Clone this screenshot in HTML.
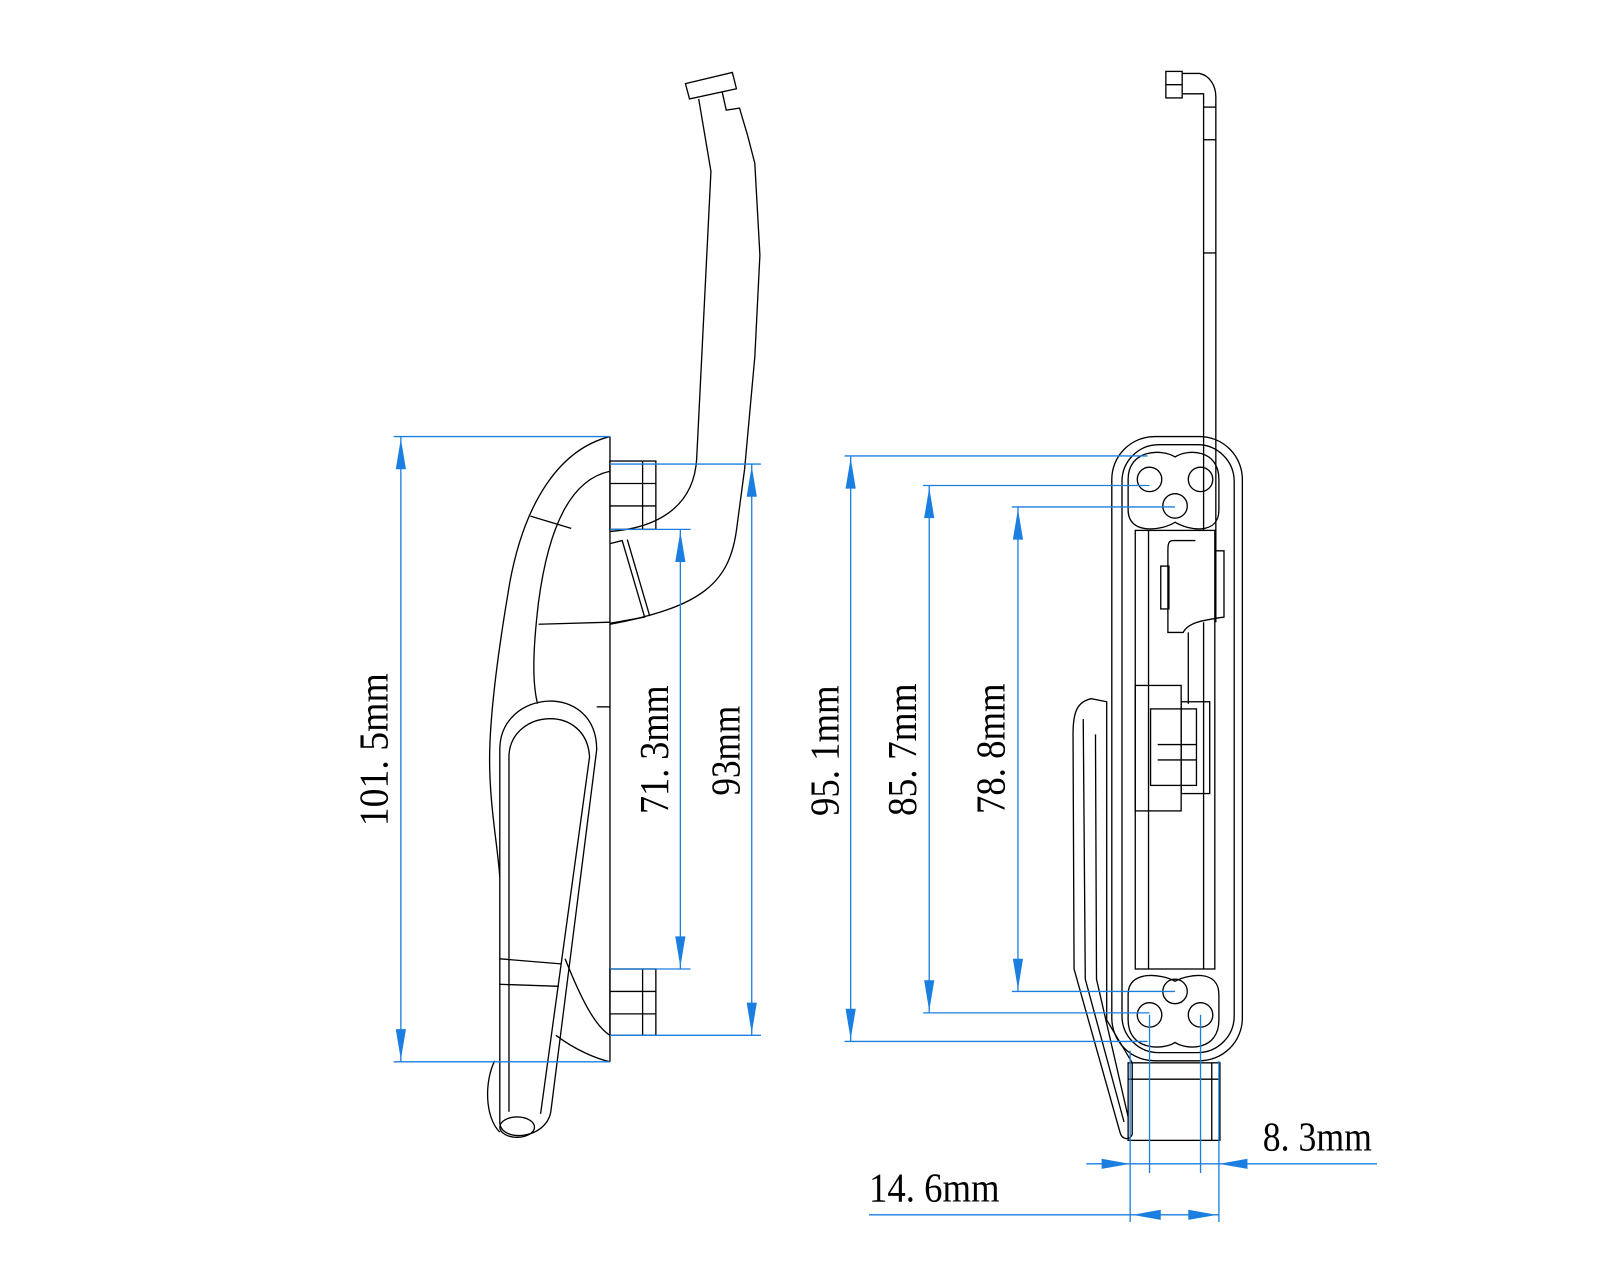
<!DOCTYPE html>
<html><head><meta charset="utf-8"><style>
html,body{margin:0;padding:0;background:#fff}
svg{display:block}
.k{fill:none;stroke:#000;stroke-width:1.3}
.b{fill:none;stroke:#1a7fe0;stroke-width:1.3}
.a{fill:#1a7fe0;stroke:none}
text{font-family:"Liberation Serif","Noto Serif CJK SC",serif;font-size:40px;fill:#000}
</style></head><body>
<svg width="1600" height="1280" viewBox="0 0 1600 1280" xmlns="http://www.w3.org/2000/svg">
<g transform="scale(1.02)">
<!-- LEFT VIEW -->
<line class="k" x1="598" y1="428" x2="598" y2="1041"/>
<path class="k" d="M598,428 C550,440 515,490 500,570 C488,640 480,700 480,745 C480,790 488,830 490,860"/>
<path class="k" d="M598,462 C560,470 538,515 528,590 C522,640 522,670 527,690"/>
<line class="k" x1="520" y1="506" x2="560" y2="518"/>
<line class="k" x1="598" y1="610" x2="528" y2="612"/>
<line class="k" x1="598" y1="693" x2="585" y2="693"/>
<path class="k" d="M490,1100 L490,735 C490,675 585,668 585,735 L540,1090 C535,1118 490,1120 490,1100 Z"/>
<path class="k" d="M499,1090 L499,740 C502,695 575,690 578,742 L530,1092"/>
<line class="k" x1="490" y1="940" x2="550" y2="945"/>
<line class="k" x1="490" y1="965" x2="548" y2="967"/>
<path class="k" d="M554,940 C568,975 582,1005 598,1015"/>
<path class="k" d="M545,1015 C565,1030 585,1038 598,1041"/>
<path class="k" d="M485,1040 C475,1060 475,1095 490,1110"/>
<ellipse class="k" cx="507" cy="1105" rx="17" ry="10"/>
<!-- mount blocks -->
<rect class="k" x="598" y="452" width="45" height="67"/>
<line class="k" x1="598" y1="474" x2="643" y2="474"/>
<line class="k" x1="598" y1="496" x2="643" y2="496"/>
<line class="k" x1="630" y1="452" x2="630" y2="519"/>
<rect class="k" x="598" y="950" width="45" height="65"/>
<line class="k" x1="598" y1="972" x2="643" y2="972"/>
<line class="k" x1="598" y1="994" x2="643" y2="994"/>
<line class="k" x1="630" y1="950" x2="630" y2="1015"/>
<path class="k" d="M598,533 L610,530 L632,605 L598,611"/>
<line class="k" x1="615" y1="529" x2="637" y2="604"/>
<!-- arm -->
<path class="k" d="M598,521 C640,518 680,500 683,450 L697,168 L685,97"/>
<path class="k" d="M672,82 L718,71 L722,87 L676,97 Z"/>
<path class="k" d="M708,90 L712,108 L725,106 L733,133 L740,160 L745,250 L740,350 L730,460 L722,520 C715,570 690,595 598,612"/>
<!-- RIGHT VIEW -->
<rect class="k" x="1090" y="428" width="128" height="612" rx="42"/>
<rect class="k" x="1100" y="436" width="110" height="596" rx="36"/>
<path class="k" d="M1106,470 C1106,440 1140,440 1152,448 C1164,440 1195,440 1195,470 L1195,500 C1195,525 1165,520 1152,512 C1140,520 1106,525 1106,500 Z"/>
<path class="k" d="M1106,1000 C1106,1030 1140,1030 1152,1022 C1164,1030 1195,1030 1195,1000 L1195,975 C1195,950 1165,955 1152,962 C1140,955 1106,950 1106,975 Z"/>
<circle class="k" cx="1127" cy="470" r="12"/><circle class="k" cx="1177" cy="470" r="12"/><circle class="k" cx="1152" cy="496" r="12"/>
<circle class="k" cx="1152" cy="972" r="12"/><circle class="k" cx="1127" cy="995" r="12"/><circle class="k" cx="1177" cy="995" r="12"/>
<rect class="k" x="1113" y="520" width="78" height="430"/>
<line class="k" x1="1126" y1="520" x2="1126" y2="950"/>
<line class="k" x1="1180" y1="610" x2="1180" y2="950"/>
<!-- rod -->
<rect class="k" x="1143" y="70" width="16" height="26"/>
<line class="k" x1="1143" y1="83" x2="1159" y2="83"/>
<path class="k" d="M1159,72 L1176,72 C1186,74 1192,84 1192,95 L1192,610"/>
<path class="k" d="M1159,92 L1180,92 L1180,520"/>
<line class="k" x1="1180" y1="105" x2="1192" y2="105"/>
<line class="k" x1="1180" y1="137" x2="1192" y2="137"/>
<line class="k" x1="1180" y1="248" x2="1192" y2="248"/>
<path class="k" d="M1172,530 L1150,530 C1145,530 1145,535 1145,540 L1145,620 L1160,620 C1165,610 1180,608 1200,605 L1200,540 L1192,540"/>
<rect class="k" x="1138" y="555" width="8" height="42"/>
<line class="k" x1="1165" y1="620" x2="1165" y2="690"/>
<rect class="k" x="1113" y="672" width="45" height="123"/>
<rect class="k" x="1128" y="695" width="45" height="75"/>
<rect class="k" x="1158" y="688" width="28" height="90"/>
<line class="k" x1="1135" y1="730" x2="1173" y2="730"/>
<line class="k" x1="1135" y1="745" x2="1173" y2="745"/>
<!-- flap -->
<path class="k" d="M1070,685 C1055,688 1052,700 1052,720 L1053,950 L1098,1110 C1100,1118 1108,1118 1110,1112 L1110,1042 L1085,1000 L1085,688 Z"/>
<path class="k" d="M1062,705 L1064,960 L1102,1100"/>
<path class="k" d="M1074,720 L1075,960 L1106,1095"/>
<rect class="k" x="1106" y="1042" width="90" height="76"/>
<line class="k" x1="1106" y1="1058" x2="1196" y2="1058"/>
<line class="k" x1="1188" y1="1042" x2="1188" y2="1118"/>
<!-- DIMENSIONS -->
<line class="b" x1="386" y1="428" x2="598" y2="428"/>
<line class="b" x1="386" y1="1041" x2="598" y2="1041"/>
<line class="b" x1="393" y1="428" x2="393" y2="1041"/>
<polygon class="a" points="393,430 388,460 398,460"/><polygon class="a" points="393,1039 388,1009 398,1009"/>

<line class="b" x1="598" y1="519" x2="677" y2="519"/>
<line class="b" x1="598" y1="950" x2="677" y2="950"/>
<line class="b" x1="667" y1="519" x2="667" y2="950"/>
<polygon class="a" points="667,521 662,551 672,551"/><polygon class="a" points="667,948 662,918 672,918"/>

<line class="b" x1="598" y1="455" x2="746" y2="455"/>
<line class="b" x1="598" y1="1015" x2="746" y2="1015"/>
<line class="b" x1="737" y1="455" x2="737" y2="1015"/>
<polygon class="a" points="737,457 732,487 742,487"/><polygon class="a" points="737,1013 732,983 742,983"/>

<line class="b" x1="828" y1="447" x2="1125" y2="447"/>
<line class="b" x1="828" y1="1021" x2="1125" y2="1021"/>
<line class="b" x1="834" y1="447" x2="834" y2="1021"/>
<polygon class="a" points="834,449 829,479 839,479"/><polygon class="a" points="834,1019 829,989 839,989"/>

<line class="b" x1="905" y1="476" x2="1127" y2="476"/>
<line class="b" x1="905" y1="993" x2="1127" y2="993"/>
<line class="b" x1="911" y1="476" x2="911" y2="993"/>
<polygon class="a" points="911,478 906,508 916,508"/><polygon class="a" points="911,991 906,961 916,961"/>

<line class="b" x1="992" y1="497" x2="1152" y2="497"/>
<line class="b" x1="992" y1="972" x2="1152" y2="972"/>
<line class="b" x1="998" y1="497" x2="998" y2="972"/>
<polygon class="a" points="998,499 993,529 1003,529"/><polygon class="a" points="998,970 993,940 1003,940"/>

<line class="b" x1="1127" y1="995" x2="1127" y2="1150"/>
<line class="b" x1="1177" y1="995" x2="1177" y2="1150"/>
<line class="b" x1="1065" y1="1141" x2="1350" y2="1141"/>
<polygon class="a" points="1108,1141 1080,1136 1080,1146"/><polygon class="a" points="1195,1141 1223,1136 1223,1146"/>

<line class="b" x1="1108" y1="1030" x2="1108" y2="1198"/>
<line class="b" x1="1195" y1="1040" x2="1195" y2="1198"/>
<line class="b" x1="852" y1="1191" x2="1195" y2="1191"/>
<polygon class="a" points="1110,1191 1138,1186 1138,1196"/><polygon class="a" points="1193,1191 1165,1186 1165,1196"/>

<text transform="translate(380,735) rotate(-90)" text-anchor="middle" textLength="150" lengthAdjust="spacingAndGlyphs">101. 5mm</text>
<text transform="translate(655,735) rotate(-90)" text-anchor="middle" textLength="126" lengthAdjust="spacingAndGlyphs">71. 3mm</text>
<text transform="translate(725,736) rotate(-90)" text-anchor="middle" textLength="88" lengthAdjust="spacingAndGlyphs">93mm</text>
<text transform="translate(822,736) rotate(-90)" text-anchor="middle" textLength="128" lengthAdjust="spacingAndGlyphs">95. 1mm</text>
<text transform="translate(898,735) rotate(-90)" text-anchor="middle" textLength="130" lengthAdjust="spacingAndGlyphs">85. 7mm</text>
<text transform="translate(985,734) rotate(-90)" text-anchor="middle" textLength="128" lengthAdjust="spacingAndGlyphs">78. 8mm</text>
<text x="1238" y="1128" textLength="107" lengthAdjust="spacingAndGlyphs">8. 3mm</text>
<text x="852" y="1178" textLength="128" lengthAdjust="spacingAndGlyphs">14. 6mm</text>
</g>
</svg>
</body></html>
